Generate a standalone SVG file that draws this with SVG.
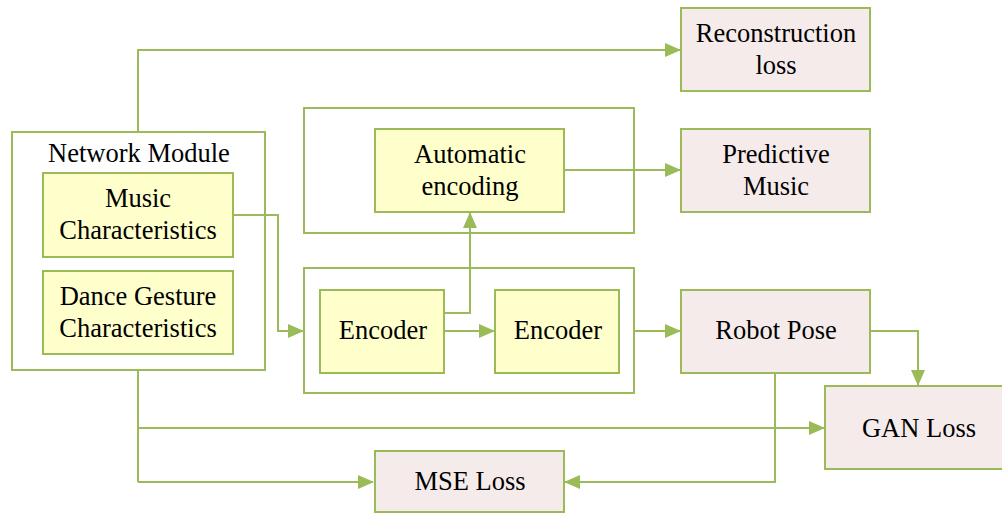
<svg xmlns="http://www.w3.org/2000/svg" width="1002" height="514" viewBox="0 0 1002 514">
<defs>
<marker id="ah" markerWidth="16" markerHeight="14" refX="15" refY="7" orient="auto" markerUnits="userSpaceOnUse">
<path d="M0,0 L16,7 L0,14 Z" fill="#9BBB59"/>
</marker>
<style>
.c{fill:none;stroke:#9BBB59;stroke-width:2}
.ca{fill:none;stroke:#9BBB59;stroke-width:2;marker-end:url(#ah)}
.w{fill:#FFFFFF;stroke:#9BBB59;stroke-width:2}
.y{fill:#FFFFCC;stroke:#9BBB59;stroke-width:2}
.p{fill:#F6EBEB;stroke:#9BBB59;stroke-width:2}
text{font-family:"Liberation Serif","Times New Roman",serif;font-size:26.5px;fill:#000;text-anchor:middle}
</style>
</defs>
<rect width="1002" height="514" fill="#FFFFFF"/>
<g id="network-module">
<rect class="w" x="12" y="132" width="253" height="238"/>
<text x="139" y="162">Network Module</text>
</g>
<g id="auto-container"><rect class="w" x="304" y="108" width="330" height="125"/></g>
<g id="encoder-container"><rect class="w" x="304" y="268" width="330" height="125"/></g>
<g id="connectors">
<polyline class="ca" points="138,132 138,50 680,50"/>
<polyline class="ca" points="233,215 278,215 278,331 303,331"/>
<polyline class="ca" points="444,331 494,331"/>
<polyline class="ca" points="444,313 470,313 470,213"/>
<polyline class="ca" points="564,170 680,170"/>
<polyline class="ca" points="634,331 680,331"/>
<polyline class="ca" points="870,331 918,331 918,385"/>
<polyline class="c" points="138,370 138,482"/>
<polyline class="ca" points="138,428 824,428"/>
<polyline class="ca" points="138,482 373,482"/>
<polyline class="ca" points="775,373 775,482 565,482"/>
</g>
<g id="music-characteristics">
<rect class="y" x="43" y="173" width="190" height="84"/>
<text x="138" y="207">Music</text>
<text x="138" y="239">Characteristics</text>
</g>
<g id="dance-gesture">
<rect class="y" x="43" y="271" width="190" height="83"/>
<text x="138" y="305">Dance Gesture</text>
<text x="138" y="337">Characteristics</text>
</g>
<g id="automatic-encoding">
<rect class="y" x="375" y="129" width="189" height="83"/>
<text x="470" y="163">Automatic</text>
<text x="470" y="195">encoding</text>
</g>
<g id="encoder-1">
<rect class="y" x="320" y="290" width="124" height="83"/>
<text x="383" y="339">Encoder</text>
</g>
<g id="encoder-2">
<rect class="y" x="495" y="290" width="124" height="83"/>
<text x="558" y="339">Encoder</text>
</g>
<g id="reconstruction-loss">
<rect class="p" x="681" y="8" width="189" height="83"/>
<text x="776" y="42">Reconstruction</text>
<text x="776" y="74">loss</text>
</g>
<g id="predictive-music">
<rect class="p" x="681" y="129" width="189" height="83"/>
<text x="776" y="163">Predictive</text>
<text x="776" y="195">Music</text>
</g>
<g id="robot-pose">
<rect class="p" x="681" y="290" width="189" height="83"/>
<text x="776" y="339">Robot Pose</text>
</g>
<g id="gan-loss">
<rect class="p" x="825" y="386" width="180" height="83"/>
<text x="919" y="437">GAN Loss</text>
</g>
<g id="mse-loss">
<rect class="p" x="375" y="451" width="189" height="61"/>
<text x="470" y="490">MSE Loss</text>
</g>
</svg>
